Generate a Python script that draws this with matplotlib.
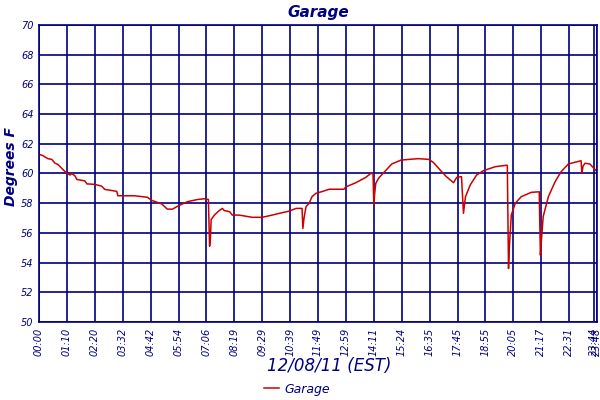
import matplotlib.pyplot as plt

# sample index (about one reading per minute) and temperature in degrees F
samples = [0, 10, 22, 32, 40, 48, 57, 70, 78, 82, 90, 95, 115, 120, 140, 157, 165,
           195, 198, 240, 272, 282, 308, 322, 335, 348, 372, 398, 415, 425, 428,
           430, 432, 440, 452, 460, 465, 478, 485, 502, 535, 560, 585, 610, 628,
           645, 660, 662, 665, 670, 678, 685, 695, 710, 728, 765, 770, 795, 820,
           832, 838, 840, 842, 845, 852, 865, 885, 908, 928, 952, 978, 990, 1008,
           1022, 1040, 1048, 1060, 1065, 1070, 1082, 1098, 1115, 1145, 1172, 1175,
           1178, 1180, 1185, 1195, 1210, 1235, 1255, 1258, 1260, 1265, 1278, 1295,
           1310, 1328, 1360, 1362, 1365, 1370, 1382, 1398]
temps = [61.3, 61.2, 61.0, 60.95, 60.7, 60.6, 60.35, 60.0, 59.9, 60.0, 59.85, 59.6,
         59.5, 59.3, 59.27, 59.15, 58.93, 58.8, 58.5, 58.5, 58.4, 58.2, 57.95, 57.6,
         57.6, 57.8, 58.1, 58.25, 58.3, 58.25, 55.1, 55.6, 56.9, 57.2, 57.5, 57.65,
         57.5, 57.43, 57.2, 57.2, 57.05, 57.05, 57.2, 57.36, 57.47, 57.65, 57.65,
         56.3, 57.0, 57.77, 58.0, 58.44, 58.67, 58.78, 58.94, 58.94, 59.1, 59.38,
         59.74, 60.0, 60.0, 57.9, 58.6, 59.34, 59.68, 60.06, 60.64, 60.9, 60.95,
         61.0, 60.95, 60.73, 60.19, 59.79, 59.38, 59.74, 59.79, 57.32, 58.44, 59.23,
         59.9, 60.19, 60.46, 60.55, 60.55, 53.6, 55.0, 57.2, 58.0, 58.44, 58.73,
         58.77, 54.5, 55.3, 57.1, 58.44, 59.45, 60.12, 60.64, 60.86, 60.0, 60.5,
         60.69, 60.64, 60.19]

tick_pos = [0, 70, 140, 210, 280, 350, 420, 490, 560, 630, 700, 770, 840, 910,
            980, 1050, 1120, 1190, 1260, 1330, 1392, 1400]
tick_labels = ['00:00', '01:10', '02:20', '03:32', '04:42', '05:54', '07:06', '08:19',
               '09:29', '10:39', '11:49', '12:59', '14:11', '15:24', '16:35', '17:45',
               '18:55', '20:05', '21:17', '22:31', '23:44', '23:48']

navy = '#000080'

fig = plt.figure(figsize=(6, 4), dpi=100)
ax = fig.add_axes([0.065, 0.195, 0.93, 0.7425])

ax.plot(samples, temps, color='#cc0000', lw=1.1, label='Garage')

ax.set_xlim(0, 1400)
ax.set_ylim(50, 70)
ax.set_yticks(range(50, 71, 2))
ax.set_xticks(tick_pos)
ax.set_xticklabels(tick_labels, rotation=90)
ax.grid(True, color=navy, lw=1.2)
ax.set_axisbelow(True)
for s in ax.spines.values():
    s.set_color(navy)
    s.set_linewidth(1.2)
ax.tick_params(length=0, pad=4, colors=navy, labelsize=7)
for t in ax.get_xticklabels() + ax.get_yticklabels():
    t.set_fontstyle('italic')

ax.set_title('Garage', color=navy, fontsize=11, fontweight='bold', style='italic', pad=6)
ax.set_ylabel('Degrees F', color=navy, fontsize=10, fontweight='bold', style='italic')
ax.yaxis.set_label_coords(-0.038, 0.525)
ax.set_xlabel('12/08/11 (EST)', color=navy, fontsize=12, style='italic')
ax.xaxis.set_label_coords(0.52, -0.118)

leg = fig.legend(loc='center', bbox_to_anchor=(0.495, 0.027), frameon=False,
                 handlelength=1.2, handletextpad=0.4,
                 prop={'style': 'italic', 'size': 9})
for t in leg.get_texts():
    t.set_color(navy)

fig.savefig('out.png', dpi=100)
